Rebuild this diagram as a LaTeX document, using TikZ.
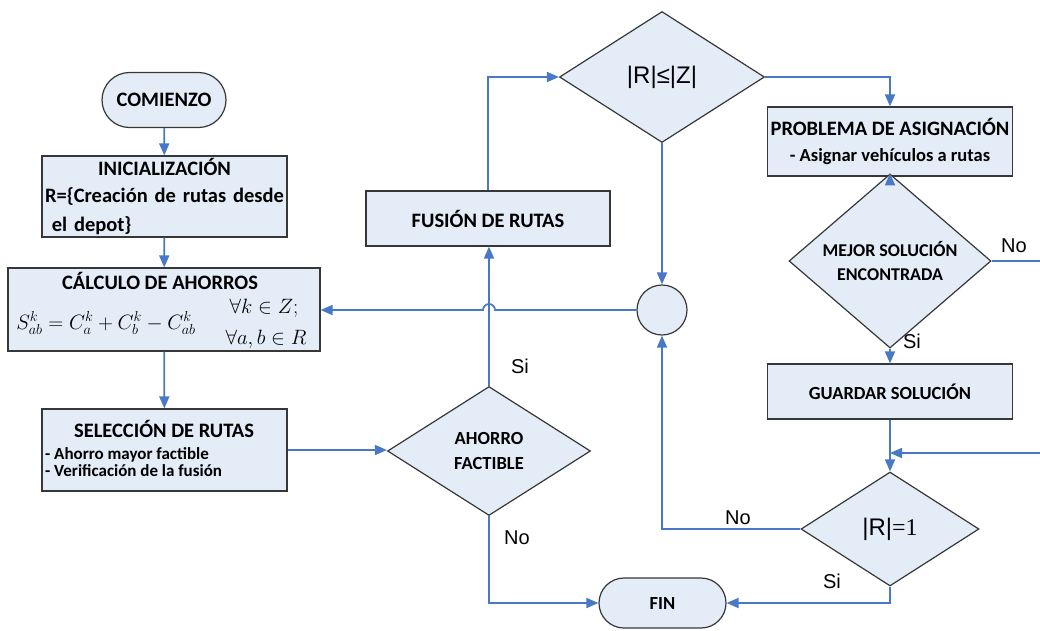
\documentclass[tikz,border=0pt]{standalone}
\usepackage{fontspec}
\setmainfont{Carlito}
\newfontfamily\arialfont{Liberation Sans}
\newfontfamily\romanfont{Liberation Serif}
\usetikzlibrary{arrows.meta,shapes.geometric,shapes.misc}

\definecolor{boxfill}{RGB}{228,236,247}
\definecolor{boxline}{RGB}{55,55,55}
\definecolor{linkcol}{RGB}{72,120,198}

\tikzset{
  box/.style={draw=boxline, fill=boxfill, line width=1.2pt, inner sep=2pt, text=black},
  procbox/.style={box, rectangle},
  decision/.style={box, diamond, inner sep=0pt},
  terminal/.style={box, rounded rectangle},
  bigfont/.style={font=\fontsize{20.5}{27}\selectfont\bfseries},
  midfont/.style={font=\fontsize{18.5}{25}\selectfont\bfseries},
  mathfont/.style={font=\fontsize{21}{24}\selectfont, inner sep=0pt},
  link/.style={draw=linkcol, line width=1.7pt, -{Triangle[length=12pt,width=10pt]}},
  plainlink/.style={draw=linkcol, line width=1.7pt},
  lbl/.style={font=\arialfont\fontsize{20}{22}\selectfont, text=black, inner sep=0pt}
}

\begin{document}
\begin{tikzpicture}[x=1pt,y=1pt]
\useasboundingbox (0,0) rectangle (1040,-630);

% --- left column ---
\node[terminal, bigfont, minimum width=128pt, minimum height=55pt] (start) at (164,-100) {COMIENZO};

\node[procbox, bigfont, minimum height=81pt, text width=239pt, inner xsep=3pt] (init) at (164.5,-196.5)
  {\centering INICIALIZACIÓN\par\raggedright R=\{Creación de rutas desde\\[2pt] \ el depot\}};

\node[procbox, minimum width=312pt, minimum height=83pt] (calc) at (164,-309.5) {};
\node[bigfont, inner sep=0pt] (calcT) at (160,-281) {CÁLCULO DE AHORROS};
\node[mathfont] (calcF) at (106,-323) {$S^{k}_{ab}=C^{k}_{a}+C^{k}_{b}-C^{k}_{ab}$};
\node[mathfont] (calcZ) at (264,-308) {$\forall k\in Z;$};
\node[mathfont] (calcR) at (266,-339) {$\forall a,b\in R$};

\node[procbox, minimum width=245pt, minimum height=82pt] (sel) at (164.5,-450) {};
\node[inner sep=0pt, font=\fontsize{20.5}{25}\selectfont\bfseries] (selT) at (164,-429) {SELECCIÓN DE RUTAS};
\node[inner sep=0pt, anchor=west, align=left, font=\fontsize{17}{17.5}\selectfont\bfseries] (selL) at (45,-462)
  {- Ahorro mayor factible\\ - Verificación de la fusión};

% --- middle column ---
\node[decision, midfont, minimum width=203pt, minimum height=129pt, align=center] (ahorro) at (489,-451)
  {AHORRO\\FACTIBLE};

\node[procbox, bigfont, minimum width=244pt, minimum height=55pt] (fusion) at (488,-218.5) {FUSIÓN DE RUTAS};

\node[decision, minimum width=205pt, minimum height=131pt, font=\arialfont\fontsize{24}{26}\selectfont] (rz) at (662,-77) {|R|≤|Z|};

\node[box, circle, minimum size=50pt, inner sep=0pt] (circ) at (662,-310) {};

\node[terminal, midfont, minimum width=131pt, minimum height=50pt] (fin) at (662.5,-603) {FIN};

% --- right column ---
\node[procbox, minimum width=245pt, minimum height=69pt, align=center] (prob) at (890,-141.5)
  {{\bfseries\fontsize{20.5}{22}\selectfont PROBLEMA DE ASIGNACIÓN}\\[12pt]
   {\bfseries\fontsize{18.5}{20}\selectfont - Asignar vehículos a rutas}};

\node[decision, minimum width=202pt, minimum height=128pt, align=center,
      font=\fontsize{18}{24}\selectfont\bfseries] (mejor) at (890,-261)
  {MEJOR SOLUCIÓN\\ENCONTRADA};

\node[procbox, midfont, minimum width=245pt, minimum height=55pt] (guard) at (890,-391.5) {GUARDAR SOLUCIÓN};

\node[decision, minimum width=178pt, minimum height=114pt] (r1) at (890,-529)
  {{\arialfont\fontsize{24}{26}\selectfont |R|}{\romanfont\fontsize{24}{26}\selectfont =1}};

\coordinate (offA) at (1040,-261);
\coordinate (offB) at (1040,-453);
\coordinate (join) at (890,-453);

% --- connectors ---
\draw[link] (start) -- (init);
\draw[link] (init) -- (calc);
\draw[link] (calc) -- (sel);
\draw[link] (sel.east) -- (sel.east -| ahorro.west);
\draw[link] (ahorro.north) -- (ahorro.north |- fusion.south);
\draw[link] (fusion.north) |- (rz.west);
\draw[link] (rz.east) -| (prob.north);
\draw[link] (rz.south) -- (circ.north);
\draw[link] (circ.west) -- ([xshift=6pt]ahorro.north |- circ.west)
  arc[start angle=0, end angle=180, radius=6pt] -- (calc.east |- circ.west);
\draw[link] (prob.south) -- (mejor.north);
\draw[plainlink] (mejor.east) -- (offA);
\draw[link] (mejor.south) -- (guard.north);
\draw[link] (guard.south) -- (r1.north);
\draw[link] (offB) -- (join);
\draw[link] (r1.west) -| (circ.south);
\draw[link] (r1.south) |- (fin.east);
\draw[link] (ahorro.south) |- (fin.west);

% --- branch labels ---
\node[lbl] (siA) at (520,-366) {Si};
\node[lbl] (noA) at (517,-538) {No};
\node[lbl] (noM) at (1014,-246) {No};
\node[lbl] (siM) at (912,-341) {Si};
\node[lbl] (noR) at (738,-518) {No};
\node[lbl] (siR) at (832,-581) {Si};
\end{tikzpicture}
\end{document}
